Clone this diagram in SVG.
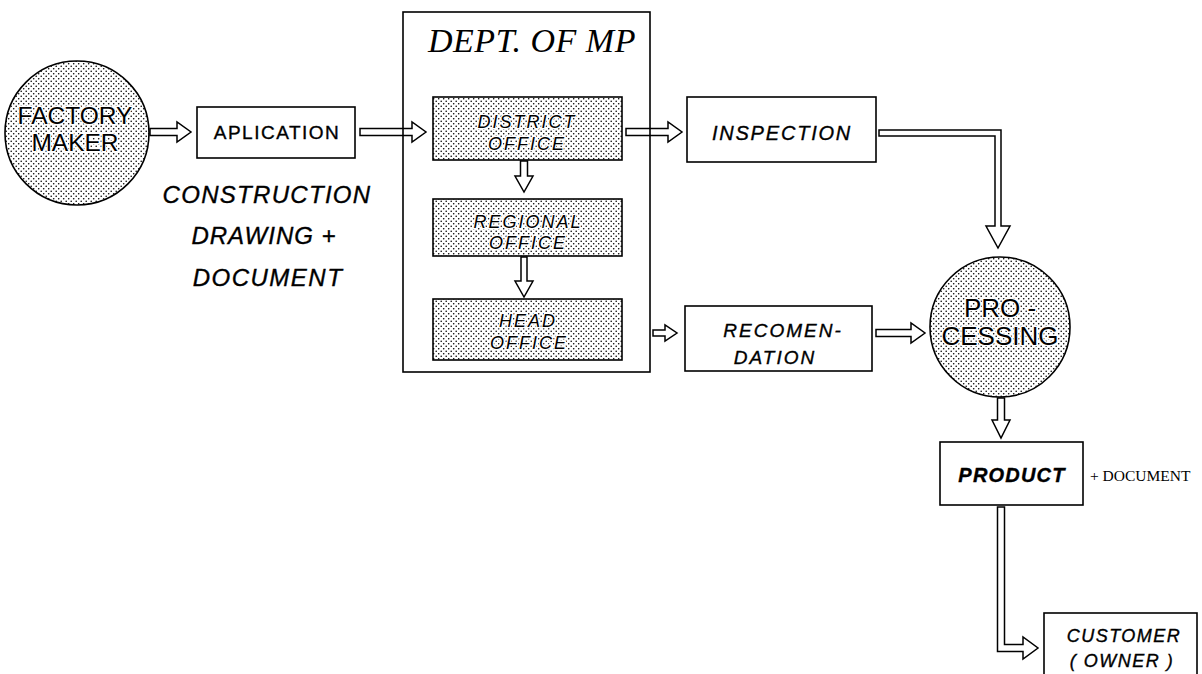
<svg xmlns="http://www.w3.org/2000/svg" width="1202" height="674" viewBox="0 0 1202 674">
<defs>
<pattern id="dots" width="5" height="5" patternUnits="userSpaceOnUse">
<rect width="5" height="5" fill="#ffffff"/>
<circle cx="1.2" cy="1.2" r="0.8" fill="#000"/>
<circle cx="3.7" cy="3.7" r="0.8" fill="#000"/>
</pattern>
</defs>
<style>
.box{fill:#fff;stroke:#000;stroke-width:1.6}
.sh{fill:url(#dots);stroke:#000;stroke-width:1.6}
.frame{fill:none;stroke:#000;stroke-width:1.6}
.arr{fill:#fff;stroke:#000;stroke-width:1.5;stroke-linejoin:miter}
.t{font-family:"Liberation Sans",Arial,sans-serif;fill:#000;text-anchor:middle;stroke:#000;stroke-width:0.35}
.i{font-style:italic}
.h{stroke:#fff;stroke-width:2.5;paint-order:stroke}
.s{font-family:"Liberation Serif","Times New Roman",serif;fill:#000}
</style>
<rect width="1202" height="674" fill="#fff"/>
<g id="connectors">
<polygon class="arr" points="150,128.5 177,128.5 177,122 191,132 177,142 177,135.5 150,135.5"/>
<polygon class="arr" points="360,128.5 412,128.5 412,122 426,132 412,142 412,135.5 360,135.5"/>
<polygon class="arr" points="626,128.5 668,128.5 668,122 682,132 668,142 668,135.5 626,135.5"/>
<polygon class="arr" points="520.5,161 527.5,161 527.5,176 533,176 524,192 515,176 520.5,176"/>
<polygon class="arr" points="521,257 527,257 527,281 533,281 524,297 515,281 521,281"/>
<polygon class="arr" points="653,330 665,330 665,325 677,333 665,341 665,336 653,336"/>
<polygon class="arr" points="876,329.5 911,329.5 911,323 925,333 911,343 911,336.5 876,336.5"/>
<polygon class="arr" points="879,130 1001,130 1001,226 1010,226 998,248 986,226 995,226 995,136 879,136"/>
<polygon class="arr" points="997.5,398 1004.5,398 1004.5,420 1010,420 1001,438 992,420 997.5,420"/>
<polygon class="arr" points="997.5,507 1004.5,507 1004.5,644.5 1023,644.5 1023,637 1038,648 1023,659 1023,651.5 997.5,651.5"/>
</g>
<g id="factory">
<circle class="sh" cx="77" cy="133" r="72"/>
<text class="t h" x="75" y="124" font-size="24.5">FACTORY</text>
<text class="t h" x="75" y="151" font-size="24.5">MAKER</text>
</g>
<g id="aplication">
<rect class="box" x="197" y="107" width="158" height="51"/>
<text class="t" x="277" y="139" font-size="19" letter-spacing="1.5">APLICATION</text>
</g>
<g id="drawing-note">
<text class="t i" x="267" y="203" font-size="24" letter-spacing="1.3">CONSTRUCTION</text>
<text class="t i" x="264" y="244" font-size="24" letter-spacing="1">DRAWING +</text>
<text class="t i" x="268" y="286" font-size="24" letter-spacing="1.5">DOCUMENT</text>
</g>
<g id="dept">
<rect class="frame" x="403" y="12" width="247" height="360"/>
<text class="s" x="532" y="52" font-size="34" font-style="italic" text-anchor="middle" letter-spacing="0.5">DEPT. OF MP</text>
</g>
<g id="district">
<rect class="sh" x="433" y="97" width="189" height="63"/>
<text class="t i h" x="527" y="128" font-size="18" letter-spacing="2">DISTRICT</text>
<text class="t i h" x="527" y="150" font-size="18" letter-spacing="2">OFFICE</text>
</g>
<g id="regional">
<rect class="sh" x="433" y="199" width="189" height="57"/>
<text class="t i h" x="528" y="228" font-size="18" letter-spacing="2">REGIONAL</text>
<text class="t i h" x="528" y="249" font-size="18" letter-spacing="2">OFFICE</text>
</g>
<g id="head">
<rect class="sh" x="433" y="299" width="189" height="61"/>
<text class="t i h" x="528" y="327" font-size="18" letter-spacing="2">HEAD</text>
<text class="t i h" x="529" y="349" font-size="18" letter-spacing="2">OFFICE</text>
</g>
<g id="inspection">
<rect class="box" x="687" y="97" width="189" height="65"/>
<text class="t i" x="782" y="140" font-size="20" letter-spacing="1.8">INSPECTION</text>
</g>
<g id="recomendation">
<rect class="box" x="685" y="306" width="187" height="65"/>
<text class="t i" x="783" y="337" font-size="19" letter-spacing="2">RECOMEN-</text>
<text class="t i" x="775" y="364" font-size="19" letter-spacing="2">DATION</text>
</g>
<g id="processing">
<circle class="sh" cx="1000" cy="327" r="70"/>
<text class="t h" x="1000" y="317" font-size="26">PRO -</text>
<text class="t h" x="1000" y="345" font-size="26">CESSING</text>
</g>
<g id="product">
<rect class="box" x="940" y="442" width="143" height="63"/>
<text class="t i" x="1012" y="482" font-size="20" font-weight="bold" letter-spacing="1.2">PRODUCT</text>
<text class="s" x="1090" y="481" font-size="15.5">+ DOCUMENT</text>
</g>
<g id="customer">
<rect class="box" x="1044" y="613" width="153" height="75"/>
<text class="t i" x="1124" y="642" font-size="18" letter-spacing="1.5">CUSTOMER</text>
<text class="t i" x="1122" y="667" font-size="18" letter-spacing="1.5">( OWNER )</text>
</g>
</svg>
